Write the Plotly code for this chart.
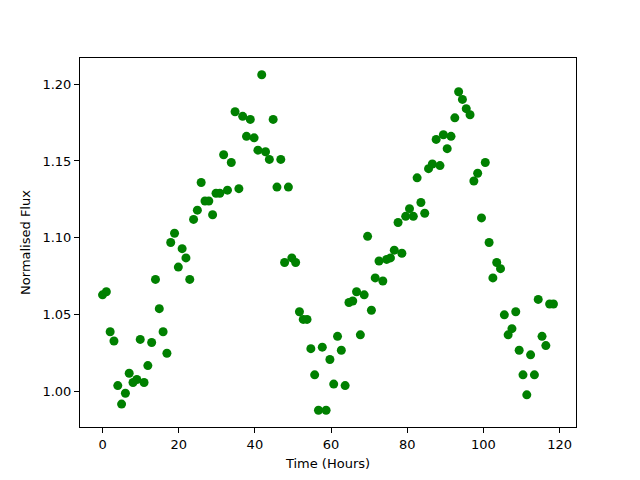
import plotly.graph_objects as go

time_hours = [0.0, 1.0, 2.0, 3.0, 4.0, 5.0, 6.0, 7.0, 8.0, 9.0,
              9.9, 10.9, 11.9, 12.9, 13.9, 14.9, 15.9, 16.9, 17.9, 18.9,
              19.9, 20.9, 21.9, 22.9, 23.9, 24.9, 25.9, 26.9, 27.9, 28.9,
              29.8, 30.8, 31.8, 32.8, 33.8, 34.8, 35.8, 36.8, 37.8, 38.8,
              39.8, 40.8, 41.8, 42.8, 43.8, 44.8, 45.8, 46.8, 47.8, 48.8,
              49.7, 50.7, 51.7, 52.7, 53.7, 54.7, 55.7, 56.7, 57.7, 58.7,
              59.7, 60.7, 61.7, 62.7, 63.7, 64.7, 65.7, 66.7, 67.7, 68.7,
              69.6, 70.6, 71.6, 72.6, 73.6, 74.6, 75.6, 76.6, 77.6, 78.6,
              79.6, 80.6, 81.6, 82.6, 83.6, 84.6, 85.6, 86.6, 87.6, 88.6,
              89.5, 90.5, 91.5, 92.5, 93.5, 94.5, 95.5, 96.5, 97.5, 98.5,
              99.5, 100.5, 101.5, 102.5, 103.5, 104.5, 105.5, 106.5, 107.5, 108.5,
              109.4, 110.4, 111.4, 112.4, 113.4, 114.4, 115.4, 116.4, 117.4, 118.4]

flux = [1.063, 1.065, 1.039, 1.033, 1.004, 0.992, 0.999, 1.012, 1.006, 1.008,
        1.034, 1.006, 1.017, 1.032, 1.073, 1.054, 1.039, 1.025, 1.097, 1.103,
        1.081, 1.093, 1.087, 1.073, 1.112, 1.118, 1.136, 1.124, 1.124, 1.115,
        1.129, 1.129, 1.154, 1.131, 1.149, 1.182, 1.132, 1.179, 1.166, 1.177,
        1.165, 1.157, 1.206, 1.156, 1.151, 1.177, 1.133, 1.151, 1.084, 1.133,
        1.087, 1.084, 1.052, 1.047, 1.047, 1.028, 1.011, 0.988, 1.029, 0.988,
        1.021, 1.005, 1.036, 1.027, 1.004, 1.058, 1.059, 1.065, 1.037, 1.063,
        1.101, 1.053, 1.074, 1.085, 1.072, 1.086, 1.087, 1.092, 1.110, 1.090,
        1.114, 1.119, 1.114, 1.139, 1.123, 1.116, 1.145, 1.148, 1.164, 1.147,
        1.167, 1.158, 1.166, 1.178, 1.195, 1.190, 1.184, 1.180, 1.137, 1.142,
        1.113, 1.149, 1.097, 1.074, 1.084, 1.080, 1.050, 1.037, 1.041, 1.052,
        1.027, 1.011, 0.998, 1.024, 1.011, 1.060, 1.036, 1.030, 1.057, 1.057]

x_ticks = [0, 20, 40, 60, 80, 100, 120]
y_ticks = [1.00, 1.05, 1.10, 1.15, 1.20]

fig = go.Figure()
fig.add_trace(go.Scatter(
    x=time_hours, y=flux, mode="markers",
    marker=dict(color="#008000", size=9, line=dict(width=0)),
    showlegend=False,
))

font = dict(family="DejaVu Sans", size=13, color="black")
axis_common = dict(
    showline=True, linecolor="black", linewidth=1, mirror=True,
    ticks="outside", ticklen=5, tickwidth=1, tickcolor="black",
    showgrid=False, zeroline=False, tickfont=font, automargin=False,
)
fig.update_layout(
    width=640, height=480,
    margin=dict(l=72, r=72, t=50, b=61),
    paper_bgcolor="white", plot_bgcolor="white",
    font=font,
    xaxis=dict(range=[-5.92, 124.32], tickvals=x_ticks,
               title=dict(text="Time (Hours)", font=font, standoff=8), **axis_common),
    yaxis=dict(range=[0.9771, 1.2169], tickvals=y_ticks,
               ticktext=[f"{v:.2f}" for v in y_ticks],
               title=dict(text="Normalised Flux", font=font, standoff=8), **axis_common),
)
fig.write_html("out.html")
